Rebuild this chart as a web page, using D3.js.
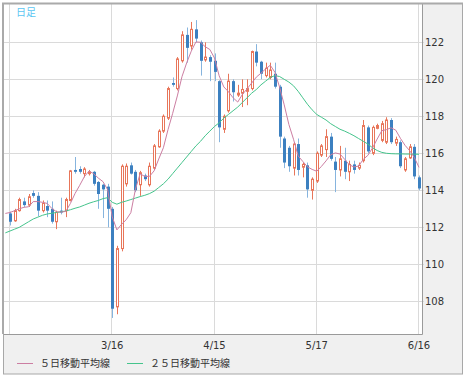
<!DOCTYPE html>
<html>
<head>
<meta charset="utf-8">
<script src="https://cdn.jsdelivr.net/npm/d3@7"></script>
<style>
  body { margin: 0; background: #fff; }
</style>
</head>
<body>
<div id="candle"></div>
<script>
// daily candles, index 0 .. 88
const opens = [
  112.75, 112.35, 112.9, 113.4, 113.2, 113.85, 113.7, 112.9, 113.15, 113.0,
  112.3, 112.9, 112.9, 113.45, 115.1, 115.15, 114.9, 114.9, 115.0, 114.45,
  114.3, 114.2, 113.0, 107.7, 110.85, 114.35, 115.35, 115.0, 114.3, 114.8,
  114.3, 115.2, 116.35, 117.2, 117.9, 119.8, 119.5, 121.0, 122.4, 121.8,
  122.7, 122.0, 121.05, 121.2, 121.0, 119.9, 117.3, 118.3, 119.9, 119.15,
  119.25, 119.35, 119.5, 121.5, 120.95, 120.2, 120.1, 120.3, 119.6, 116.8,
  116.3, 115.2, 116.5, 115.25, 115.35, 114.0, 114.5, 115.9, 116.2, 116.9,
  115.55, 115.1, 115.6, 115.0, 115.4, 115.2, 115.6, 117.4, 116.0, 117.35,
  116.7, 116.6, 117.8, 116.55, 116.6, 115.1, 115.75, 116.35, 114.7
];
const highs = [
  112.85, 113.0, 113.6, 113.6, 113.8, 114.0, 113.9, 113.45, 113.45, 113.4,
  112.9, 113.6, 113.6, 115.1, 115.8, 115.3, 115.25, 115.1, 115.05, 114.5,
  114.35, 114.35, 113.1, 111.0, 115.4, 115.45, 115.5, 115.1, 115.05, 114.9,
  115.5, 116.5, 117.3, 118.1, 119.6, 120.1, 121.2, 122.6, 122.8, 123.1,
  123.2, 122.1, 122.0, 121.3, 121.4, 119.95, 118.1, 120.3, 120.0, 119.7,
  120.0, 120.0, 121.55, 121.9, 121.0, 120.9, 120.9, 120.9, 119.7, 116.9,
  116.4, 116.6, 116.8, 115.5, 115.5, 114.7, 116.1, 116.5, 117.3, 117.1,
  115.8, 116.4, 116.3, 115.6, 115.6, 115.5, 117.8, 117.5, 117.5, 117.6,
  117.75, 117.95, 117.9, 116.9, 116.7, 115.8, 116.5, 116.5, 114.8
];
const lows = [
  112.1, 112.3, 112.85, 113.1, 113.1, 113.6, 112.6, 112.8, 112.55, 112.2,
  111.9, 112.7, 112.55, 113.4, 114.9, 114.9, 114.7, 114.8, 114.25, 113.0,
  112.5, 112.0, 107.1, 107.3, 110.7, 114.2, 114.85, 113.9, 113.7, 114.5,
  114.2, 115.1, 116.3, 117.1, 117.8, 119.6, 119.4, 120.9, 120.9, 121.6,
  122.0, 120.2, 120.95, 119.9, 119.9, 116.6, 117.1, 118.2, 118.8, 119.05,
  118.5, 118.6, 119.4, 120.7, 120.0, 120.1, 120.0, 119.5, 116.3, 115.2,
  115.0, 114.8, 114.8, 114.7, 113.6, 113.5, 114.4, 115.8, 115.8, 115.6,
  113.9, 114.75, 114.6, 114.5, 114.9, 115.1, 115.5, 116.0, 115.9, 117.3,
  116.6, 116.5, 116.5, 116.4, 115.2, 115.0, 115.7, 114.6, 114.0
];
const closes = [
  112.3, 112.9, 113.5, 113.2, 113.65, 113.7, 112.9, 113.3, 112.9, 112.3,
  112.8, 112.8, 113.5, 115.05, 115.0, 115.0, 115.15, 115.0, 114.35, 113.8,
  114.05, 113.0, 107.6, 110.85, 115.3, 115.3, 114.9, 114.0, 114.95, 114.6,
  115.3, 116.4, 117.2, 118.0, 119.5, 119.7, 121.1, 122.4, 121.7, 122.7,
  122.2, 121.0, 121.2, 120.95, 120.4, 117.4, 118.0, 119.9, 119.3, 119.25,
  119.45, 119.5, 121.5, 120.9, 120.3, 120.6, 120.5, 119.6, 116.9, 115.5,
  115.3, 116.5, 115.1, 115.4, 114.05, 114.6, 116.0, 116.4, 116.9, 115.7,
  115.1, 115.7, 115.0, 115.4, 115.1, 115.35, 117.5, 116.1, 117.4, 117.5,
  117.6, 117.8, 116.6, 116.75, 115.3, 115.7, 116.35, 114.75, 114.1
];

// moving averages, first value is the day before candle 0
const ma5 = [
  112.75, 112.8, 112.9, 113.0, 113.08, 113.11, 113.39, 113.39, 113.35, 113.29,
  113.02, 112.84, 112.82, 112.86, 113.29, 113.83, 114.27, 114.74, 115.04, 114.9,
  114.66, 114.47, 114.04, 112.56, 111.86, 112.16, 112.41, 112.79, 114.07, 114.89,
  114.75, 114.75, 115.05, 115.69, 116.3, 117.28, 118.16, 119.1, 120.14, 120.88,
  121.52, 122.02, 122.0, 121.76, 121.61, 121.15, 120.19, 119.59, 119.33, 119.0,
  118.77, 119.18, 119.48, 119.8, 120.12, 120.33, 120.56, 120.76, 120.38, 119.58,
  118.62, 117.56, 116.76, 115.86, 115.56, 115.27, 115.13, 115.03, 115.29, 115.59,
  115.92, 116.02, 115.96, 115.68, 115.38, 115.26, 115.31, 115.67, 115.89, 116.29,
  116.77, 117.22, 117.28, 117.38, 117.25, 116.81, 116.43, 116.14, 115.77, 115.24
];
const ma25 = [
  111.7, 111.8, 111.9, 112.0, 112.15, 112.3, 112.45, 112.55, 112.65, 112.72,
  112.76, 112.8, 112.84, 112.88, 112.95, 113.03, 113.1, 113.2, 113.3, 113.38,
  113.45, 113.55, 113.6, 113.35, 113.25, 113.35, 113.42, 113.5, 113.58, 113.66,
  113.73, 113.82, 113.95, 114.15, 114.35, 114.6, 114.9, 115.2, 115.5, 115.8,
  116.1, 116.4, 116.65, 116.95, 117.2, 117.45, 117.65, 117.9, 118.1, 118.3,
  118.5, 118.75, 119.0, 119.25, 119.45, 119.7, 119.9, 120.1, 120.2, 120.15,
  120.0, 119.85, 119.65, 119.35, 119.0, 118.65, 118.35, 118.1, 117.95, 117.8,
  117.6, 117.45, 117.3, 117.2, 117.08, 116.95, 116.8, 116.65, 116.5, 116.3,
  116.15, 116.05, 116.0, 115.98, 115.97, 115.97, 115.96, 115.96, 115.95, 115.95
];

const dateTickIdx = [0, 22, 44, 66, 88];
const dateTickLabels = ["", "3/16", "4/15", "5/17", "6/16"];
const priceTicks = [108, 110, 112, 114, 116, 118, 120, 122];
const legendNames = ["５日移動平均線", "２５日移動平均線"];

const upColor = "#e8765a";
const downColor = "#3c80c0";
const downWick = "#86b4de";
const ma5Color = "#cc7ea2";
const ma25Color = "#45c48c";

// -------------------------------------------------------------- //
// --------------------- Initializing the svg ------------------- //
// -------------------------------------------------------------- //
const width = 465, height = 377;
const plot = {left: 4, top: 4, right: 422, bottom: 334};

const svg = d3.select("#candle").append("svg")
    .attr("width", width)
    .attr("height", height)
    .style("font-family", "'DejaVu Sans', sans-serif");

// outer frame
svg.append("rect")
    .attr("x", 3.5).attr("y", 3.5)
    .attr("width", 459).attr("height", 370.5)
    .attr("fill", "#f0f0f0")
    .attr("stroke", "#a8a8a8");

svg.append("rect")
    .attr("x", plot.left).attr("y", plot.top)
    .attr("width", plot.right - plot.left)
    .attr("height", plot.bottom - plot.top)
    .attr("fill", "#fff");

// -------------------------------------------------------------- //
// ------------------- Creating scales and axis ----------------- //
// -------------------------------------------------------------- //
const x = d3.scaleLinear().domain([0, 88]).range([10, 419]);
const y = d3.scaleLinear().domain([108, 122]).range([301.3, 42.3]);

const px = i => Math.round(x(i));

// horizontal grid + right ticks
svg.append("g")
    .selectAll("line")
    .data(priceTicks)
    .join("line")
    .attr("x1", plot.left).attr("x2", plot.right + 2)
    .attr("y1", d => Math.round(y(d)) + 0.5)
    .attr("y2", d => Math.round(y(d)) + 0.5)
    .attr("stroke", "#dadada");

// vertical grid
svg.append("g")
    .selectAll("line")
    .data(dateTickIdx)
    .join("line")
    .attr("x1", d => px(d) - 0.5).attr("x2", d => px(d) - 0.5)
    .attr("y1", plot.top).attr("y2", plot.bottom)
    .attr("stroke", "#dadada");

// plot border (right / bottom) and heavier top / left edge
svg.append("path")
    .attr("d", `M${plot.right + 0.5},${plot.top} V${plot.bottom + 0.5} H${plot.left}`)
    .attr("fill", "none")
    .attr("stroke", "#9a9a9a");
svg.append("path")
    .attr("d", `M3,${plot.bottom} V3.5 H463`)
    .attr("fill", "none")
    .attr("stroke", "#aaaaaa")
    .attr("stroke-width", 2);

svg.append("g")
    .selectAll("text")
    .data(priceTicks)
    .join("text")
    .attr("x", plot.right + 3)
    .attr("y", d => y(d) + 4)
    .attr("font-size", 10)
    .attr("fill", "#333")
    .text(d => d);

svg.append("g")
    .selectAll("text")
    .data(dateTickIdx)
    .join("text")
    .attr("x", d => x(d))
    .attr("y", 349)
    .attr("text-anchor", "middle")
    .attr("font-size", 10)
    .attr("fill", "#333")
    .text((d, i) => dateTickLabels[i]);

// -------------------------------------------------------------- //
// ------------------------ Candles + lines --------------------- //
// -------------------------------------------------------------- //
svg.append("clipPath").attr("id", "plotClip")
    .append("rect")
    .attr("x", plot.left).attr("y", plot.top)
    .attr("width", plot.right - plot.left)
    .attr("height", plot.bottom - plot.top);

const g = svg.append("g").attr("clip-path", "url(#plotClip)");

const candles = d3.range(closes.length).map(i => ({
    i, o: opens[i], h: highs[i], l: lows[i], c: closes[i], up: closes[i] >= opens[i]
}));

g.append("g")
    .selectAll("line")
    .data(candles)
    .join("line")
    .attr("x1", d => px(d.i) + 0.5).attr("x2", d => px(d.i) + 0.5)
    .attr("y1", d => y(d.h)).attr("y2", d => y(d.l))
    .attr("stroke", d => d.up ? upColor : downWick);

g.append("g")
    .selectAll("rect")
    .data(candles)
    .join("rect")
    .attr("x", d => d.up ? px(d.i) - 0.5 : px(d.i) - 1)
    .attr("width", d => d.up ? 2 : 3)
    .attr("y", d => y(Math.max(d.o, d.c)))
    .attr("height", d => Math.max(1, y(Math.min(d.o, d.c)) - y(Math.max(d.o, d.c))))
    .attr("fill", d => d.up ? "#fff" : downColor)
    .attr("stroke", d => d.up ? upColor : "none");

const line = d3.line()
    .x((d, i) => x(i - 1))
    .y(d => y(d));

g.append("path")
    .datum(ma25)
    .attr("d", line)
    .attr("fill", "none")
    .attr("stroke", ma25Color)
    .attr("stroke-width", 1);

g.append("path")
    .datum(ma5)
    .attr("d", line)
    .attr("fill", "none")
    .attr("stroke", ma5Color)
    .attr("stroke-width", 1);

// -------------------------------------------------------------- //
// ---------------------- Title and legend ---------------------- //
// -------------------------------------------------------------- //
svg.append("text")
    .attr("x", 16).attr("y", 16)
    .attr("font-family", "'Noto Sans CJK JP', sans-serif")
    .attr("font-size", 10)
    .attr("fill", "#5cc6f2")
    .text("日足");

const legend = svg.append("g")
    .selectAll("g")
    .data(legendNames)
    .join("g")
    .attr("transform", (d, i) => `translate(${i === 0 ? 17 : 127},363)`);

legend.append("line")
    .attr("x1", 0).attr("x2", 16)
    .attr("y1", 0.5).attr("y2", 0.5)
    .attr("stroke", (d, i) => i === 0 ? ma5Color : ma25Color);

legend.append("text")
    .attr("x", 23).attr("y", 4)
    .attr("font-family", "'Noto Sans CJK JP', sans-serif")
    .attr("font-size", 10)
    .attr("fill", "#333")
    .text(d => d);
</script>
</body>
</html>
